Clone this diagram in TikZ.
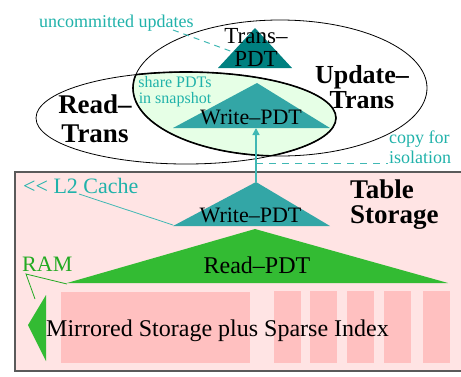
\documentclass[tikz,border=0pt]{standalone}
\usepackage{fontspec}
\setmainfont{Liberation Serif}
\usetikzlibrary{arrows.meta}
\definecolor{tealtxt}{RGB}{32,178,170}
\definecolor{tealline}{RGB}{64,184,180}
\definecolor{wpdt}{RGB}{51,166,166}
\definecolor{tpdt}{RGB}{0,128,128}
\definecolor{rpdt}{RGB}{51,187,51}
\definecolor{ramgreen}{RGB}{34,170,34}
\definecolor{snapgreen}{RGB}{230,255,230}
\definecolor{storebg}{RGB}{255,228,228}
\definecolor{storerect}{RGB}{255,192,192}
\definecolor{boxedge}{RGB}{90,90,90}
\tikzset{
  boldlbl/.style={inner sep=0pt, font=\fontsize{27}{27}\selectfont\bfseries, align=center},
  pdtlbl/.style={inner sep=0pt, font=\fontsize{22}{22}\selectfont},
  notelbl/.style={inner sep=0pt, text=tealtxt, font=\fontsize{18}{20}\selectfont},
  thinell/.style={draw=black, line width=0.8pt},
  thickell/.style={draw=black, line width=1.6pt},
  tealdash/.style={draw=tealline, line width=1pt, dash pattern=on 7pt off 6pt},
}
\begin{document}
\begin{tikzpicture}[x=1pt,y=-1pt]
\useasboundingbox (0,0) rectangle (461,376);

% ---- Table storage box ----
\draw[fill=storebg, draw=boxedge, line width=1.3pt] (15,172) rectangle (462,371);

% storage rectangles
\fill[storerect] (61,292) rectangle (250,363);
\foreach \xa/\xb in {274/301, 310/337, 347/374, 384/411, 423/450}
  \fill[storerect] (\xa,291) rectangle (\xb,363);

% green RAM arrow
\fill[rpdt] (28,325) -- (46,295) -- (46,361) -- cycle;
\coordinate (ramarrow) at (35,299);

% Read-PDT triangle
\fill[rpdt] (67,283) -- (255,229) -- (448,283) -- cycle;
\coordinate (rpdtleft) at (67,284);

% lower Write-PDT triangle
\fill[wpdt] (173,226) -- (256,182) -- (330,226) -- cycle;
\coordinate (wlapex) at (256,182);
\coordinate (wlleft) at (173,225);

% ---- ellipses ----
\begin{scope}
  \clip (186,118) ellipse [x radius=150, y radius=46];
  \fill[snapgreen] (280,88) ellipse [x radius=147, y radius=68];
\end{scope}

% Trans-PDT triangle
\fill[tpdt] (218,68) -- (255,28) -- (292,68) -- cycle;
\coordinate (tpdtedge) at (233,52);

% upper Write-PDT triangle
\fill[wpdt] (173,128) -- (257,83) -- (330,128) -- cycle;
\coordinate (wubase) at (256,128);

\draw[thinell] (186,118) ellipse [x radius=150, y radius=46];
\draw[thinell] (280,88) ellipse [x radius=147, y radius=68];
\begin{scope}
  \clip (280,88) ellipse [x radius=147, y radius=68];
  \draw[thickell] (186,118) ellipse [x radius=150, y radius=46];
\end{scope}
\begin{scope}
  \clip (186,118) ellipse [x radius=150, y radius=46];
  \draw[thickell] (280,88) ellipse [x radius=147, y radius=68];
\end{scope}

% ---- texts ----
\node[boldlbl, font=\fontsize{27}{29}\selectfont\bfseries] (readtrans) at (95,118.3) {Read–\\Trans};
\node[boldlbl, font=\fontsize{26}{25}\selectfont\bfseries] (updtrans) at (362,86.7) {Update–\\Trans};
\node[boldlbl, align=left, anchor=west, font=\fontsize{27}{25}\selectfont\bfseries] (tablestore) at (350,204.3) {Table\\Storage};

\node[inner sep=0pt, align=center, font=\fontsize{23}{23}\selectfont] (transpdt) at (256,47.9) {Trans–\\PDT};
\node[pdtlbl, anchor=base] (wupper) at (251,124) {Write–PDT};
\node[pdtlbl, anchor=base] (wlower) at (250.5,222) {Write–PDT};
\node[inner sep=0pt, anchor=base, font=\fontsize{24}{24}\selectfont] (readpdt) at (257,273) {Read–PDT};
\node[inner sep=0pt, anchor=base, font=\fontsize{24}{24}\selectfont] (mirror) at (217.5,336) {Mirrored Storage plus Sparse Index};

\node[inner sep=0pt, anchor=base west, text=tealtxt, font=\fontsize{22}{22}\selectfont] (l2) at (23,193) {<{}< L2 Cache};
\node[inner sep=0pt, anchor=base west, text=ramgreen, font=\fontsize{22}{22}\selectfont] (ram) at (22,271) {RAM};
\node[notelbl, anchor=base west] (uncommit) at (39,27) {uncommitted updates};
\node[inner sep=0pt, align=center, text=tealtxt, font=\fontsize{16}{16}\selectfont] (share) at (175,91.3) {share PDTs\\in snapshot};
\node[notelbl, align=left, anchor=west] (copyiso) at (389,146.9) {copy for\\isolation};

% ---- connectors ----
\coordinate (uncend) at (173,30);
\draw[tealdash, dash pattern=on 6pt off 5pt] (uncend) -- (tpdtedge);

\draw[draw=tealline, line width=1.5pt, -{Triangle[length=7pt,width=7pt]}] (wlapex) -- (wubase);
\coordinate (dashstart) at (256,163);
\coordinate (dashend) at (388,163);
\draw[tealdash] (dashstart) -- (dashend);

\coordinate (l2foot) at (79,194);
\draw[draw=tealline, line width=0.8pt] (l2foot) -- (wlleft);

\coordinate (ramfoot) at (26,274);
\draw[draw=ramgreen, line width=0.8pt] (rpdtleft) -- (ramfoot) -- (ramarrow);
\end{tikzpicture}
\end{document}
